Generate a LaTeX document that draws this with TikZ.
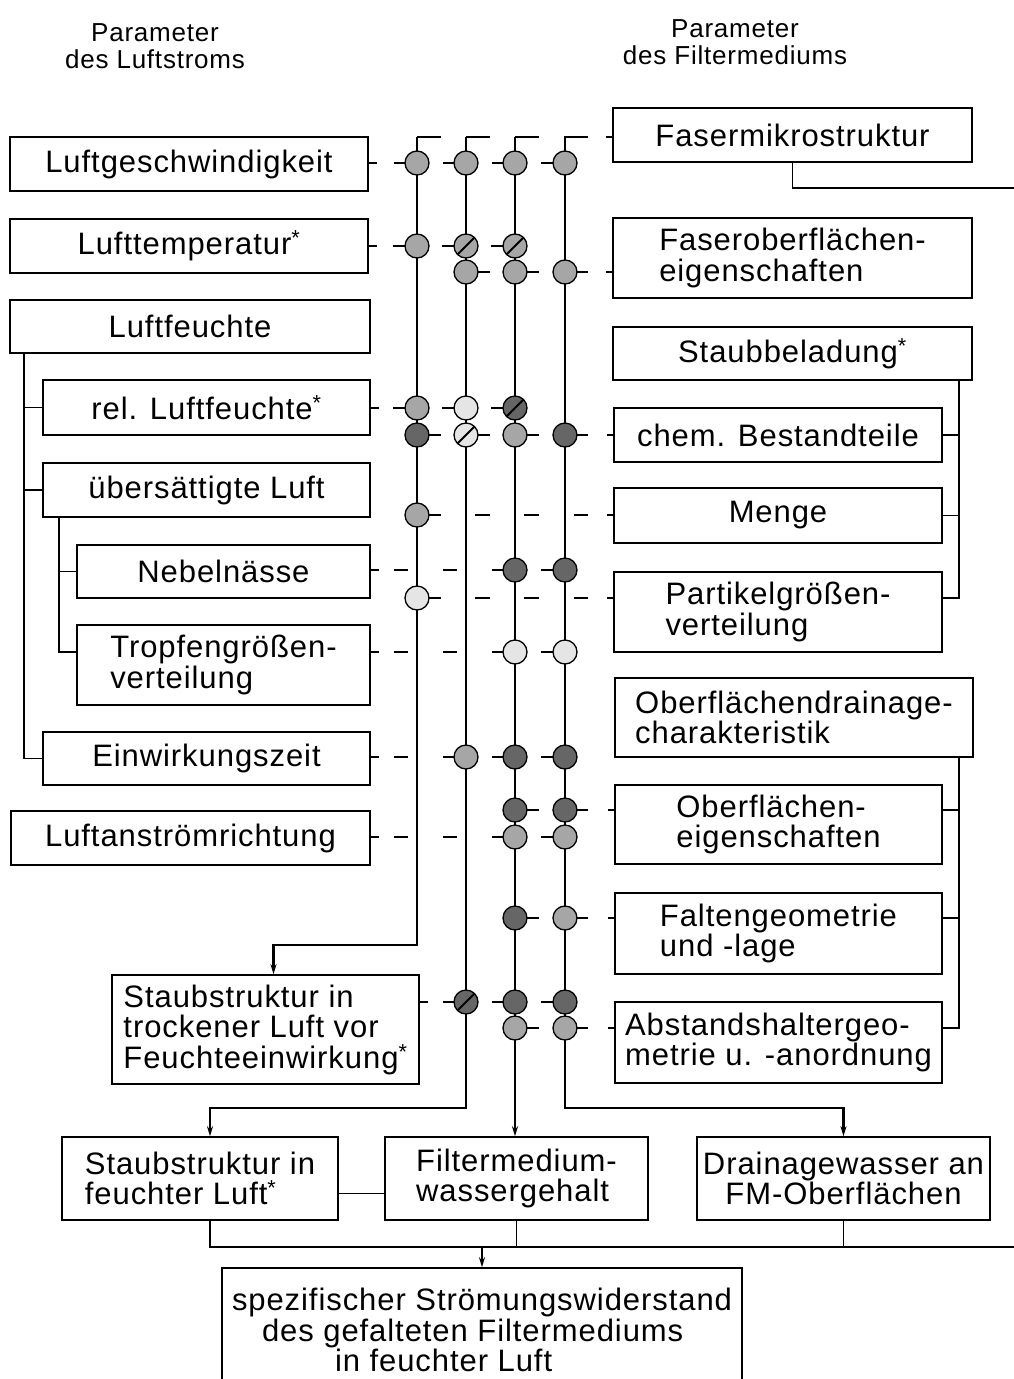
\documentclass[tikz,border=0pt]{standalone}
\usepackage{fontspec}
\setmainfont[LetterSpace=3]{Liberation Sans}
\usetikzlibrary{arrows.meta,calc}

\pgfdeclarelayer{lines}
\pgfsetlayers{lines,main}

\newcommand{\labfont}{\fontsize{31}{30.5}\selectfont}
\newcommand{\topfont}{\fontsize{26}{27}\selectfont}

\begin{document}
\begin{tikzpicture}[
    x=1pt, y=-1pt,
    >=Stealth,
    param/.style={draw, line width=1.6pt, inner sep=0pt, font=\labfont, align=center},
    paraml/.style={param, align=left},
    head/.style={font=\topfont, align=center},
    dot/.style={circle, draw, line width=1.3pt, fill=black!35, minimum size=24pt, inner sep=0pt},
    dotdark/.style={dot, fill=black!60},
    dotlight/.style={dot, fill=black!10},
    slashed/.style={path picture={\draw[line width=2pt]
        (path picture bounding box.south west) -- (path picture bounding box.north east);}},
    wire/.style={line width=1.6pt},
    bus/.style={line width=2.2pt},
    rowline/.style={line width=1.8pt, dash pattern=on 24pt off 25pt},
    link/.style={line width=1.8pt},
    bridge/.style={line width=6pt, white},
    arr/.style={-{Stealth[length=10pt,width=6pt]}},
  ]

  \useasboundingbox (0,0) rectangle (1014,1379);

  % headings
  \node[head] (hluft) at (155,46) {Parameter\\des Luftstroms};
  \node[head] (hfilt) at (735,42) {Parameter\\des Filtermediums};

  % air stream parameters
  \node[param, minimum width=358pt, minimum height=54pt] (lgesch) at (189,164) {Luftgeschwindigkeit};
  \node[param, minimum width=358pt, minimum height=54pt] (ltemp) at (189,246) {Lufttemperatur\textsuperscript{*}};
  \node[param, minimum width=360pt, minimum height=53pt] (lfeucht) at (190,326.5) {Luftfeuchte};
  \node[param, minimum width=327pt, minimum height=55pt] (relf) at (206.5,407.5) {rel. Luftfeuchte\textsuperscript{*}};
  \node[param, minimum width=327pt, minimum height=54pt] (uebers) at (206.5,490) {übersättigte Luft};
  \node[param, minimum width=293pt, minimum height=53pt] (nebel) at (223.5,571.5) {Nebelnässe};
  \node[paraml, minimum width=293pt, minimum height=80pt] (tropf) at (223.5,665) {Tropfengrößen-\\verteilung};
  \node[param, minimum width=327pt, minimum height=53pt] (einw) at (206.5,758.5) {Einwirkungszeit};
  \node[param, minimum width=359pt, minimum height=54pt] (lanstr) at (190.5,838) {Luftanströmrichtung};
  \node[paraml, minimum width=307pt, minimum height=109pt] (strock) at (265.5,1029.5)
    {Staubstruktur in\\trockener Luft vor\\Feuchteeinwirkung\textsuperscript{*}};

  % filter medium parameters
  \node[param, minimum width=359pt, minimum height=54pt] (fmikro) at (792.5,135) {Fasermikrostruktur};
  \node[paraml, minimum width=359pt, minimum height=80pt] (fober) at (792.5,258) {Faseroberflächen-\\eigenschaften};
  \node[param, minimum width=359pt, minimum height=53pt] (sbel) at (792.5,353.5) {Staubbeladung\textsuperscript{*}};
  \node[param, minimum width=328pt, minimum height=54pt] (chem) at (778,435) {chem. Bestandteile};
  \node[param, minimum width=328pt, minimum height=55pt] (menge) at (778,515.5) {Menge};
  \node[paraml, minimum width=328pt, minimum height=80pt] (partik) at (778,612) {Partikelgrößen-\\verteilung};
  \node[paraml, minimum width=358pt, minimum height=79pt] (odrain) at (794,717.5) {Oberflächendrainage-\\charakteristik};
  \node[paraml, minimum width=327pt, minimum height=79pt] (oeig) at (778.5,824.5) {Oberflächen-\\eigenschaften};
  \node[paraml, minimum width=327pt, minimum height=81pt] (falt) at (778.5,933.5) {Faltengeometrie\\und -lage};
  \node[paraml, minimum width=327pt, minimum height=81pt] (abst) at (778.5,1042.5) {Abstandshaltergeo-\\metrie u. -anordnung};

  % results
  \node[paraml, minimum width=276pt, minimum height=83pt] (sfeucht) at (200,1178.5) {Staubstruktur in\\feuchter Luft\textsuperscript{*}};
  \node[paraml, minimum width=263pt, minimum height=83pt] (fwass) at (516.5,1178.5) {Filtermedium-\\wassergehalt};
  \node[param, minimum width=293pt, minimum height=83pt] (drain) at (843.5,1178.5) {Drainagewasser an\\FM-Oberflächen};
  \node[paraml, minimum width=520pt, minimum height=124pt] (result) at (482,1330)
    {spezifischer Strömungswiderstand\\\hspace*{30pt}des gefalteten Filtermediums\\\hspace*{103pt}in feuchter Luft};

  % influence points
  \foreach \i/\x in {1/417,2/466,3/515,4/565}{
    \coordinate (top\i) at (\x,137);
    \node[dot] (dgesch\i) at (\x,163) {};
  }
  \node[dot] (dtemp1) at (417,246) {};
  \node[dot, slashed] (dtemp2) at (466,246) {};
  \node[dot, slashed] (dtemp3) at (515,246) {};
  \foreach \i/\x in {2/466,3/515,4/565}
    \node[dot] (dober\i) at (\x,272) {};
  \node[dot] (drel1) at (417,408) {};
  \node[dotlight] (drel2) at (466,408) {};
  \node[dotdark, slashed] (drel3) at (515,408) {};
  \node[dotdark] (dchem1) at (417,435) {};
  \node[dotlight, slashed] (dchem2) at (466,435) {};
  \node[dot] (dchem3) at (515,435) {};
  \node[dotdark] (dchem4) at (565,435) {};
  \node[dot] (dmenge1) at (417,515) {};
  \node[dotdark] (dnebel3) at (515,570) {};
  \node[dotdark] (dnebel4) at (565,570) {};
  \node[dotlight] (dpartik1) at (417,598) {};
  \node[dotlight] (dtropf3) at (515,652) {};
  \node[dotlight] (dtropf4) at (565,652) {};
  \node[dot] (deinw2) at (466,757) {};
  \node[dotdark] (deinw3) at (515,757) {};
  \node[dotdark] (deinw4) at (565,757) {};
  \node[dotdark] (doeig3) at (515,810) {};
  \node[dotdark] (doeig4) at (565,810) {};
  \node[dot] (danstr3) at (515,837) {};
  \node[dot] (danstr4) at (565,837) {};
  \node[dotdark] (dfalt3) at (515,918) {};
  \node[dot] (dfalt4) at (565,918) {};
  \node[dotdark, slashed] (dtrock2) at (466,1002) {};
  \node[dotdark] (dtrock3) at (515,1002) {};
  \node[dotdark] (dtrock4) at (565,1002) {};
  \node[dot] (dabst3) at (515,1028) {};
  \node[dot] (dabst4) at (565,1028) {};

  \coordinate (exitA) at (1014,188);
  \coordinate (exitB) at (1014,1247);

  \begin{pgfonlayer}{lines}
    % rows from the air stream side
    \foreach \bx/\dt in {lgesch/dgesch4, ltemp/dtemp3, relf/drel3, nebel/dnebel4,
        tropf/dtropf4, einw/deinw4, lanstr/danstr4, strock/dtrock4}{
      \draw[rowline] (\dt.center) -- (\bx.east |- \dt);
      \draw[link] (\bx.east |- \dt) -- ++(8,0);
    }
    % rows from the filter medium side
    \foreach \bx/\dt in {fober/dober2, chem/dchem1, menge/dmenge1, partik/dpartik1,
        oeig/doeig3, falt/dfalt3, abst/dabst3}{
      \draw[rowline] (\dt.center) -- (\bx.west |- \dt);
      \draw[link] (\bx.west |- \dt) -- ++(-6,0);
    }
    \draw[rowline] (top1) -- (fmikro.west |- top1);
    \draw[link] (fmikro.west |- top1) -- ++(-6,0);

    % gaps where a row only crosses a column
    \foreach \dt/\cl in {dnebel4/top1, dnebel4/top2, dtropf4/top1, dtropf4/top2,
        deinw4/top1, danstr4/top1, danstr4/top2,
        dmenge1/top2, dmenge1/top3, dmenge1/top4,
        dpartik1/top2, dpartik1/top3, dpartik1/top4}
      \draw[bridge] ($(\dt -| \cl)+(-9,0)$) -- ($(\dt -| \cl)+(9,0)$);

    % columns
    \draw[bus, arr] (top1) -- ++(0,808) -| ([xshift=8pt]strock.north);
    \draw[bus, arr] (top2) -- ++(0,971) -| ([xshift=10pt]sfeucht.north);
    \draw[bus, arr] (top3) -- (top3 |- fwass.north);
    \draw[bus, arr] (top4) -- ++(0,971) -| (drain.north);
  \end{pgfonlayer}

  % sub-items of Luftfeuchte
  \draw[wire] ([xshift=15pt]lfeucht.south west) |- (einw.west);
  \draw[wire] (relf.west) -- ++(-18,0);
  \draw[wire] (uebers.west) -- ++(-18,0);
  \draw[wire] ([xshift=17pt]uebers.south west) |- (tropf.west |- dtropf3);
  \draw[wire] (nebel.west) -- ++(-17,0);

  % sub-items on the filter side
  \draw[wire] ([xshift=-14pt]sbel.south east) |- (partik.east |- dpartik1);
  \draw[wire] (chem.east) -- ++(16,0);
  \draw[wire] (menge.east) -- ++(16,0);
  \draw[wire] ([xshift=-15pt]odrain.south east) |- (abst.east |- dabst3);
  \draw[wire] (oeig.east |- doeig3) -- ++(16,0);
  \draw[wire] (falt.east |- dfalt3) -- ++(16,0);
  \draw[wire] (fmikro.south) |- (exitA);

  % combination
  \draw[wire] ([yshift=-15pt]sfeucht.east) -- ([yshift=-15pt]fwass.west);
  \draw[wire] ([xshift=10pt]sfeucht.south) |- (exitB);
  \draw[wire] (fwass.south) -- (fwass.south |- exitB);
  \draw[wire] (drain.south) -- (drain.south |- exitB);
  \draw[wire, arr] (result.north |- exitB) -- (result.north);

\end{tikzpicture}
\end{document}
